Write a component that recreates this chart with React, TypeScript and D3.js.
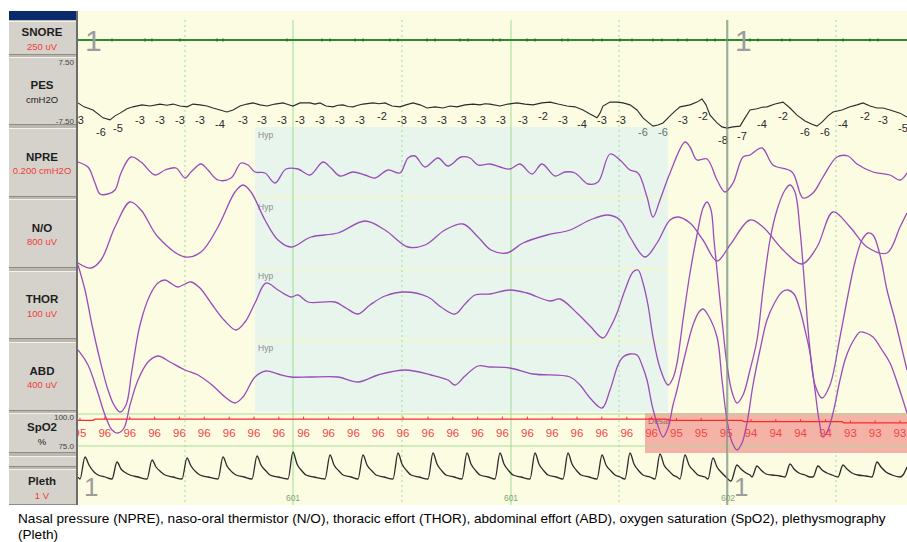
import React from 'react';
import * as d3 from 'd3';

type P = [number, number];

// ---------------- DATA (time in seconds, values in channel units) ----------------
const channelNames = ['SNORE', 'PES', 'NPRE', 'N/O', 'THOR', 'ABD', 'SpO2', '', 'Pleth'];
const channelUnits = ['250 uV', 'cmH2O', '0.200 cmH2O', '800 uV', '100 uV', '400 uV', '%', '', '1 V'];

const snoreBlips: number[] = [1.7, 3.35, 3.7, 5.1, 6.95, 7.25, 10.45, 12.2, 12.6, 13.85, 14.25, 15.6, 16.0, 17.45, 17.85, 19.1, 19.5, 20.75, 21.1, 22.45, 22.85, 24.2, 24.5, 25.75, 26.2, 27.1, 27.7, 28.75, 29.2, 30.0, 30.45, 31.45, 31.85, 33.6, 34.0, 35.2, 35.6, 37.0, 38.25, 39.6, 40.0];

const pesTrace: P[] = [[0, -2.9], [0.3, -3.9], [0.75, -4.7], [1.25, -6.7], [1.6, -7.2], [1.85, -6.2], [2.1, -5.5], [2.45, -4.4], [2.75, -3.9], [3.2, -3.4], [3.6, -3.7], [4.1, -3.2], [4.45, -3.5], [4.75, -3.2], [5.1, -3.7], [5.45, -3.9], [5.75, -3.2], [6.1, -3.4], [6.45, -3.7], [6.75, -4.2], [7.1, -4.7], [7.45, -5.2], [7.75, -4.7], [8.1, -3.7], [8.45, -3.2], [8.75, -2.9], [9.1, -3.4], [9.45, -3.7], [9.85, -3.2], [10.25, -2.9], [10.5, -3.3], [10.75, -3.7], [11.1, -2.9], [11.6, -2.9], [11.85, -3.2], [12.1, -2.9], [12.4, -3.7], [12.75, -3.9], [13.0, -3.5], [13.25, -3.4], [13.5, -3.8], [13.75, -3.9], [14.0, -3.5], [14.25, -3.2], [14.75, -2.9], [15.05, -3.1], [15.35, -2.9], [15.7, -3.7], [16.1, -3.9], [16.4, -3.4], [16.75, -2.9], [17.1, -3.4], [17.45, -4.2], [17.85, -3.9], [18.25, -4.2], [18.6, -3.7], [18.95, -3.9], [19.35, -3.4], [19.75, -3.2], [20.1, -3.4], [20.35, -3.1], [20.6, -3.2], [21.1, -3.7], [21.5, -3.2], [21.95, -2.9], [22.35, -3.2], [22.75, -3.4], [23.2, -2.9], [23.6, -2.7], [24.0, -3.2], [24.45, -3.7], [24.85, -3.9], [25.25, -4.7], [25.6, -5.7], [25.95, -6.7], [26.1, -5.5], [26.25, -3.7], [26.6, -2.7], [26.95, -2.7], [27.25, -2.9], [27.6, -3.4], [27.95, -4.7], [28.25, -6.7], [28.5, -7.8], [28.75, -8.8], [29.0, -8.5], [29.25, -8.0], [29.6, -6.2], [29.85, -5.0], [30.1, -3.9], [30.6, -3.4], [30.95, -2.7], [31.2, -1.9], [31.4, -3.4], [31.6, -6.0], [31.95, -8.0], [32.2, -9.0], [32.45, -9.3], [32.75, -9.0], [33.1, -8.8], [33.35, -6.7], [33.6, -4.7], [33.95, -4.4], [34.2, -4.0], [34.45, -3.9], [34.85, -3.2], [35.25, -2.7], [35.6, -4.2], [35.95, -6.0], [36.35, -7.5], [36.7, -8.3], [36.95, -8.8], [37.2, -7.8], [37.5, -6.2], [37.75, -5.2], [38.2, -4.7], [38.6, -3.9], [38.95, -3.4], [39.25, -2.9], [39.6, -3.7], [39.95, -4.2], [40.25, -4.2], [40.6, -4.7], [41.1, -5.5], [41.45, -6.5]];

const pesLabelTimes: number[] = [0.05, 1.15, 2.0, 3.1, 4.1, 5.1, 6.1, 7.1, 8.25, 9.2, 10.2, 11.1, 12.1, 13.1, 14.1, 15.2, 16.2, 17.2, 18.2, 19.2, 20.15, 21.15, 22.25, 23.25, 24.25, 25.2, 26.2, 27.15, 28.25, 29.25, 30.25, 31.25, 32.25, 33.2, 34.2, 35.25, 36.35, 37.35, 38.25, 39.35, 40.25, 41.25];
const pesLabelValues: number[] = [-3, -6, -5, -3, -3, -3, -3, -4, -3, -3, -3, -3, -3, -3, -3, -2, -3, -3, -3, -3, -3, -3, -3, -2, -3, -4, -3, -3, -6, -6, -3, -2, -8, -7, -4, -2, -6, -6, -4, -2, -3, -5];

const npreTrace: P[] = [[0, 0], [0.5, -0.05], [0.85, -0.21], [1.1, -0.32], [1.5, -0.32], [1.85, -0.28], [2.15, -0.11], [2.65, 0.05], [3.15, 0], [3.85, -0.13], [4.35, -0.08], [4.9, -0.06], [5.35, -0.16], [5.65, -0.1], [6.15, -0.02], [6.5, -0.08], [7.0, -0.18], [7.65, -0.16], [8.15, -0.01], [8.5, -0.03], [8.85, -0.1], [9.35, -0.11], [9.85, -0.21], [10.4, -0.07], [11.0, -0.07], [11.6, -0.13], [12.25, 0], [12.65, -0.06], [13.1, -0.14], [13.75, -0.1], [14.35, -0.13], [14.85, -0.16], [15.5, -0.08], [16.1, -0.11], [16.5, 0.04], [16.85, 0.06], [17.35, -0.05], [18.0, 0.04], [18.5, -0.04], [19.15, 0.05], [19.6, 0.04], [20.0, -0.03], [20.6, -0.02], [21.1, -0.05], [21.6, -0.07], [22.1, -0.02], [22.7, -0.12], [23.2, -0.02], [23.85, -0.14], [24.35, -0.1], [24.85, -0.11], [25.5, -0.22], [26.0, -0.2], [26.6, 0.08], [27.1, 0.02], [27.6, -0.08], [28.0, -0.11], [28.45, -0.35], [28.75, -0.55], [29.1, -0.38], [29.6, -0.11], [30.35, 0.2], [30.6, 0.15], [30.95, 0.02], [31.45, 0.03], [31.95, -0.18], [32.35, -0.3], [32.75, -0.21], [33.25, 0.05], [33.6, 0.07], [34.2, 0.14], [34.75, -0.03], [35.7, -0.1], [36.25, -0.36], [36.75, -0.31], [37.25, -0.15], [37.95, 0.05], [38.5, 0.06], [38.95, -0.02], [39.75, -0.1], [40.6, -0.13], [41.1, -0.18], [41.45, -0.11]];

const noTrace: P[] = [[0, -310], [0.65, -360], [1.15, -280], [1.85, 50], [2.6, 300], [3.15, 220], [4.0, -50], [5.35, -250], [6.15, -200], [7.0, 50], [7.85, 400], [8.25, 470], [8.65, 400], [9.35, 120], [10.0, -80], [10.65, -150], [11.65, -50], [13.0, -10], [14.35, 110], [15.35, 20], [16.5, -150], [17.35, -130], [18.35, 20], [19.25, 80], [20.0, -50], [20.65, -180], [21.45, -210], [22.25, -110], [23.45, -30], [24.6, 20], [25.6, 120], [26.5, 170], [27.1, 120], [27.6, -50], [28.35, -250], [28.95, -110], [29.6, 120], [30.0, 150], [30.6, 90], [31.25, -80], [31.95, -290], [32.6, -130], [33.6, 120], [34.25, 50], [35.25, -180], [36.2, -320], [36.95, -150], [37.75, 200], [38.6, 50], [39.45, -150], [40.45, -210], [41.1, 50], [41.45, 190]];

const thorTrace: P[] = [[0, 39], [0.35, 14], [0.7, -21], [1.1, -56], [1.5, -86], [1.8, -101], [2.1, -108], [2.4, -101], [2.7, -66], [3.1, -21], [3.6, 9], [4.0, 21], [4.35, 24], [4.7, 20], [5.0, 17], [5.35, 20], [5.65, 22], [6.1, 16], [6.65, 1], [7.3, -16], [7.9, -26], [8.35, -18], [8.85, 1], [9.4, 21], [10.0, 14], [10.65, 7], [11.0, 9], [11.5, 2], [12.85, 2], [13.4, -4], [14.0, -10], [14.6, -1], [15.35, 8], [16.35, 12], [17.5, 7], [18.15, -3], [18.85, -10], [19.35, 0], [19.85, 9], [20.6, 10], [21.6, 14], [22.45, 11], [23.6, 3], [24.1, 5], [24.95, -9], [25.6, -22], [26.25, -34], [26.6, -24], [26.95, -9], [27.35, 14], [27.75, 32], [28.0, 34], [28.25, 21], [28.5, -1], [28.75, -33], [29.1, -64], [29.5, -81], [29.75, -74], [29.95, -59], [30.25, -16], [30.6, 31], [30.95, 69], [31.25, 96], [31.45, 102], [31.65, 94], [31.8, 64], [31.95, 34], [32.2, -16], [32.45, -61], [32.7, -88], [32.95, -99], [33.25, -91], [33.6, -66], [33.95, -36], [34.25, 14], [34.6, 64], [34.95, 94], [35.35, 114], [35.6, 119], [35.85, 112], [36.1, 74], [36.35, 14], [36.6, -46], [36.85, -81], [37.2, -94], [37.6, -81], [38.1, -33], [38.5, 9], [38.85, 42], [39.2, 64], [39.5, 71], [39.75, 69], [40.1, 49], [40.45, 14], [40.85, -16], [41.15, -41], [41.45, -66]];

const abdTrace: P[] = [[0, 25], [0.5, 10], [0.95, -15], [1.35, -40], [1.7, -55], [2.0, -58], [2.3, -53], [2.6, -30], [3.0, -5], [3.5, 13], [4.0, 19], [4.6, 13], [5.35, 5], [6.0, 0], [6.7, -10], [7.35, -22], [7.85, -28], [8.25, -22], [8.85, -2], [9.4, 4], [10.0, 1], [10.65, -2], [11.6, -2], [13.0, -2], [14.0, -7], [15.0, 0], [16.35, 5], [17.65, 0], [18.5, -5], [18.85, -10], [19.35, -1], [20.0, 9], [20.6, 8], [21.6, 7], [22.75, 1], [24.6, -2], [25.1, -10], [25.6, -23], [26.2, -33], [26.6, -15], [27.0, 10], [27.25, 18], [27.6, 21], [27.95, 20], [28.2, 10], [28.45, -5], [28.7, -30], [28.95, -48], [29.25, -62], [29.5, -53], [29.75, -30], [29.95, -15], [30.35, 20], [30.75, 50], [31.05, 63], [31.25, 66], [31.5, 60], [31.95, 38], [32.2, -5], [32.45, -45], [32.7, -67], [32.95, -75], [33.2, -68], [33.45, -48], [33.75, -10], [34.1, 25], [34.45, 55], [34.85, 73], [35.2, 83], [35.5, 85], [35.8, 81], [36.1, 65], [36.35, 45], [36.6, 22], [36.85, -15], [37.05, -45], [37.25, -62], [37.5, -55], [37.75, -38], [38.1, -5], [38.35, 15], [38.6, 28], [38.85, 37], [39.1, 43], [39.4, 42], [39.75, 38], [40.2, 25], [40.6, 12], [41.0, -10], [41.45, -38]];

const spo2Trace: P[] = [[0, 95], [0.75, 95], [0.85, 96], [29.4, 96], [29.6, 95], [33.2, 95], [33.3, 94], [38.2, 94], [38.3, 93], [41.45, 93]];
const spo2LabelTimes: number[] = [0.1, 1.34, 2.59, 3.83, 5.07, 6.31, 7.56, 8.8, 10.04, 11.28, 12.53, 13.77, 15.01, 16.25, 17.5, 18.74, 19.98, 21.22, 22.47, 23.71, 24.95, 26.19, 27.44, 28.68, 29.92, 31.16, 32.41, 33.65, 34.89, 36.13, 37.38, 38.62, 39.86, 41.1];
const spo2LabelValues: number[] = [95, 96, 96, 96, 96, 96, 96, 96, 96, 96, 96, 96, 96, 96, 96, 96, 96, 96, 96, 96, 96, 96, 96, 96, 95, 95, 95, 94, 94, 94, 94, 93, 93, 93];

const plethTrace: P[] = [
  [0, 0.2], [0.1, 0.15], [0.35, 0.7], [0.55, 0.5], [0.8, 0.325], [1.0, 0.25], [1.35, 0.2],
  [1.7, 0.15], [1.95, 0.575], [2.15, 0.4], [2.4, 0.3], [2.6, 0.25], [3.0, 0.2],
  [3.45, 0.15], [3.7, 0.625], [3.9, 0.45], [4.15, 0.325], [4.35, 0.25], [4.75, 0.2],
  [5.2, 0.15], [5.45, 0.675], [5.65, 0.475], [5.9, 0.325], [6.1, 0.25], [6.5, 0.2],
  [7.0, 0.15], [7.25, 0.7], [7.45, 0.475], [7.7, 0.325], [7.9, 0.25], [8.3, 0.2],
  [8.7, 0.15], [8.95, 0.725], [9.15, 0.5], [9.4, 0.35], [9.6, 0.25], [10.0, 0.2],
  [10.5, 0.15], [10.75, 0.825], [10.95, 0.525], [11.2, 0.35], [11.4, 0.25], [11.8, 0.2],
  [12.35, 0.15], [12.6, 0.75], [12.8, 0.5], [13.05, 0.35], [13.25, 0.25], [13.65, 0.2],
  [14.0, 0.15], [14.25, 0.75], [14.45, 0.5], [14.7, 0.35], [14.9, 0.25], [15.3, 0.2],
  [15.75, 0.15], [16.0, 0.8], [16.2, 0.525], [16.45, 0.35], [16.65, 0.25], [17.05, 0.2],
  [17.5, 0.15], [17.75, 0.8], [17.95, 0.525], [18.2, 0.35], [18.4, 0.25], [18.8, 0.2],
  [19.2, 0.15], [19.45, 0.8], [19.65, 0.525], [19.9, 0.35], [20.1, 0.25], [20.5, 0.2],
  [20.85, 0.15], [21.1, 0.8], [21.3, 0.525], [21.55, 0.35], [21.75, 0.25], [22.15, 0.2],
  [22.6, 0.15], [22.85, 0.8], [23.05, 0.525], [23.3, 0.35], [23.5, 0.25], [23.9, 0.2],
  [24.25, 0.15], [24.5, 0.8], [24.7, 0.525], [24.95, 0.35], [25.15, 0.25], [25.55, 0.2],
  [25.95, 0.15], [26.2, 0.75], [26.4, 0.5], [26.65, 0.35], [26.85, 0.25], [27.1, 0.2],
  [27.35, 0.15], [27.6, 0.8], [27.8, 0.525], [28.05, 0.35], [28.25, 0.25], [28.6, 0.2],
  [28.85, 0.15], [29.1, 0.775], [29.3, 0.5], [29.55, 0.35], [29.75, 0.25], [29.95, 0.2],
  [30.1, 0.15], [30.35, 0.75], [30.55, 0.5], [30.8, 0.35], [31.0, 0.25], [31.35, 0.2],
  [31.5, 0.15], [31.75, 0.675], [31.95, 0.45], [32.2, 0.3], [32.4, 0.2], [32.55, 0.125],
  [32.65, 0.1], [32.95, 0.5], [33.15, 0.4], [33.4, 0.3], [33.6, 0.25],
  [33.7, 0.2], [33.95, 0.475], [34.15, 0.375], [34.4, 0.275], [34.7, 0.25], [35.1, 0.225],
  [35.35, 0.2], [35.6, 0.525], [35.8, 0.4], [36.05, 0.3], [36.35, 0.25], [36.6, 0.2],
  [36.75, 0.2], [37.0, 0.475], [37.2, 0.375], [37.45, 0.3], [37.7, 0.25],
  [38.0, 0.2], [38.25, 0.5], [38.45, 0.4], [38.7, 0.3], [39.0, 0.25], [39.4, 0.225],
  [39.7, 0.2], [39.95, 0.575], [40.15, 0.45], [40.4, 0.325], [40.7, 0.25], [41.1, 0.2],
  [41.25, 0.25], [41.45, 0.45]
];

const gridTimes: number[] = [5.35, 10.75, 16.2, 21.65, 27.05, 32.5, 37.9];
const gridSolid: boolean[] = [false, true, false, true, false, true, false];
const epochTimes: number[] = [10.75, 21.65, 32.5];
const epochLabels: string[] = ['601', '601', '602'];
const hypSpan: number[] = [8.85, 29.5];
const desatSpan: number[] = [28.35, 41.45];
const cursorTime = 32.45;
const markerTimes: number[] = [0.25, 32.75];

const captionLines: string[] = [
  'Nasal pressure (NPRE), naso-oral thermistor (N/O), thoracic effort (THOR), abdominal effort (ABD), oxygen saturation (SpO2), plethysmography',
  '(Pleth)'
];

// ---------------- LAYOUT ----------------
const PL = 78, PR = 907, PT = 11, PB = 505;
const rowBoxes: [number, number][] = [[21, 55], [57, 125], [128, 197], [199, 268], [271, 339], [342, 411], [413, 453], [456, 467], [469, 505]];
const RED = '#f03a3a';
const PURPLE = '#9a4cb8';

export default function App() {
  const x = d3.scaleLinear().domain([0, 41.45]).range([PL, PR]);
  const snoreY = d3.scaleLinear().domain([-250, 250]).range([58, 22]);
  const pesY = d3.scaleLinear().domain([-7.5, 7.5]).range([121, 62]);
  const npreY = d3.scaleLinear().domain([-0.35, 0.35]).range([197, 127]);
  const noY = d3.scaleLinear().domain([-355, 355]).range([267.5, 196.5]);
  const thorY = d3.scaleLinear().domain([-36, 36]).range([340, 268]);
  const abdY = d3.scaleLinear().domain([-35, 35]).range([410, 340]);
  const spo2Y = d3.scaleLinear().domain([75, 100]).range([446, 414]);
  const plethY = d3.scaleLinear().domain([0, 1]).range([485, 445]);

  const mk = (ys: d3.ScaleLinear<number, number>, curve: d3.CurveFactory) =>
    d3.line<P>().x(d => x(d[0])).y(d => ys(d[1])).curve(curve);
  const smooth = d3.curveCatmullRom.alpha(0.5);

  const unitColors = [RED, '#222', RED, RED, RED, RED, '#222', RED, RED];

  return (
    <svg width={907} height={542} style={{ position: 'absolute', left: 0, top: 0, background: '#fff' }}
      fontFamily="'Liberation Sans', Arial, sans-serif">
      <defs>
        <clipPath id="plotClip"><rect x={PL} y={PT} width={PR - PL} height={PB - PT} /></clipPath>
      </defs>
      <rect x={PL} y={PT} width={PR - PL} height={PB - PT} fill="#fcfce3" />
      <g clipPath="url(#plotClip)">
        {/* events */}
        <rect x={x(hypSpan[0])} y={127} width={x(hypSpan[1]) - x(hypSpan[0])} height={285} fill="#e7f5ec" />
        {[197.5, 269, 340.5].map((yy, i) => (
          <line key={'rl' + i} x1={x(hypSpan[0])} x2={x(hypSpan[1])} y1={yy} y2={yy} stroke="#f6f6c4" strokeWidth={1.5} />
        ))}
        {[135, 207, 276, 348].map((yy, i) => (
          <text key={'hyp' + i} x={x(hypSpan[0]) + 3} y={yy} fontSize={8.5} fill="#8c8c8c" dominantBaseline="central">Hyp</text>
        ))}
        <rect x={x(desatSpan[0])} y={413} width={x(desatSpan[1]) - x(desatSpan[0])} height={40} fill="#f5b2a6" />
        <text x={x(desatSpan[0]) + 3} y={421} fontSize={8.5} fill="#8a7070" dominantBaseline="central">Desat</text>

        {/* SpO2 guide lines */}
        <line x1={PL} x2={PR} y1={spo2Y(100)} y2={spo2Y(100)} stroke="#a9dc9c" strokeWidth={1} />
        <line x1={PL} x2={PR} y1={spo2Y(75)} y2={spo2Y(75)} stroke="#a9dc9c" strokeWidth={1} />

        {/* grid */}
        {gridTimes.map((t, i) => (
          <line key={'g' + i} x1={x(t)} x2={x(t)} y1={20} y2={PB} stroke="#9fdc97" strokeWidth={1}
            strokeDasharray={gridSolid[i] ? undefined : '2 3'} />
        ))}
        {epochTimes.map((t, i) => (
          <text key={'ep' + i} x={x(t)} y={498} fontSize={8.5} fill="#7aa87a" textAnchor="middle" dominantBaseline="central">{epochLabels[i]}</text>
        ))}

        {/* SNORE */}
        <line x1={PL} x2={PR} y1={snoreY(0)} y2={snoreY(0)} stroke="#2f8a2f" strokeWidth={2} />
        {snoreBlips.map((t, i) => (
          <line key={'sb' + i} x1={x(t)} x2={x(t)} y1={snoreY(0) - 1.5} y2={snoreY(0) + 1.5} stroke="#1d6a1d" strokeWidth={1.2} />
        ))}

        {/* PES */}
        <path d={mk(pesY, d3.curveLinear)(pesTrace) || ''} fill="none" stroke="#2b2b2b" strokeWidth={1.1} />
        {pesLabelTimes.map((t, i) => (
          <text key={'pl' + i} x={x(t)} y={pesY(pesLabelValues[i]) + 17} fontSize={11} textAnchor="middle" dominantBaseline="central"
            fill={t > 28 && t < 29.5 ? '#6d6d6d' : '#2a2a2a'}>{pesLabelValues[i]}</text>
        ))}

        {/* respiratory traces */}
        <path d={mk(npreY, smooth)(npreTrace) || ''} fill="none" stroke={PURPLE} strokeWidth={1.3} />
        <path d={mk(noY, smooth)(noTrace) || ''} fill="none" stroke={PURPLE} strokeWidth={1.3} />
        <path d={mk(thorY, smooth)(thorTrace) || ''} fill="none" stroke={PURPLE} strokeWidth={1.3} />
        <path d={mk(abdY, smooth)(abdTrace) || ''} fill="none" stroke={PURPLE} strokeWidth={1.3} />

        {/* SpO2 */}
        <path d={mk(spo2Y, d3.curveLinear)(spo2Trace) || ''} fill="none" stroke="#ff2a2a" strokeWidth={1.3} />
        {spo2LabelTimes.map((t, i) => (
          <g key={'sp' + i}>
            <line x1={x(t)} x2={x(t)} y1={spo2Y(spo2LabelValues[i]) - 2.5} y2={spo2Y(spo2LabelValues[i])} stroke="#ff2a2a" strokeWidth={1} />
            <text x={x(t)} y={433} fontSize={11.5} fill="#f24646" textAnchor="middle" dominantBaseline="central">{spo2LabelValues[i]}</text>
          </g>
        ))}

        {/* Pleth */}
        <path d={mk(plethY, d3.curveMonotoneX)(plethTrace) || ''} fill="none" stroke="#2a2a2a" strokeWidth={1.3} />

        {/* cursor + markers */}
        <line x1={x(cursorTime)} x2={x(cursorTime)} y1={20} y2={PB} stroke="#8a8a8a" strokeWidth={1.3} />
        {markerTimes.map((t, i) => (
          <g key={'mk' + i}>
            <text x={x(t) + 2} y={51} fontSize={30} fill="#9c9c9c">1</text>
            <text x={x(t) + 1} y={496} fontSize={26} fill="#9c9c9c">1</text>
          </g>
        ))}
      </g>

      {/* left label panel */}
      <rect x={9} y={PT} width={68} height={PB - PT} fill="#bcb8b0" />
      <rect x={9} y={PT} width={68} height={9} fill="#0b2a6b" />
      {rowBoxes.map(([t, b], i) => {
        const cy = (t + b) / 2;
        return (
          <g key={'rb' + i}>
            <rect x={9} y={t} width={67} height={b - t} fill="#d5d2cb" />
            <line x1={9} x2={76} y1={t + 0.5} y2={t + 0.5} stroke="#f3f1ec" />
            <line x1={9} x2={76} y1={b - 0.5} y2={b - 0.5} stroke="#8f8b85" />
            {channelNames[i] && (
              <text x={42} y={cy - 6} fontSize={11.5} fontWeight="bold" fill="#1e1e1e" textAnchor="middle" dominantBaseline="central">{channelNames[i]}</text>
            )}
            {channelUnits[i] && (
              <text x={42} y={cy + 8} fontSize={9.5} fill={unitColors[i]} textAnchor="middle" dominantBaseline="central">{channelUnits[i]}</text>
            )}
          </g>
        );
      })}
      <line x1={77} x2={77} y1={PT} y2={PB} stroke="#6c6c6c" strokeWidth={2} />
      <text x={74} y={62} fontSize={8} fill="#444" textAnchor="end" dominantBaseline="central">7.50</text>
      <text x={74} y={121} fontSize={8} fill="#444" textAnchor="end" dominantBaseline="central">-7.50</text>
      <text x={74} y={417} fontSize={8} fill="#444" textAnchor="end" dominantBaseline="central">100.0</text>
      <text x={74} y={446} fontSize={8} fill="#444" textAnchor="end" dominantBaseline="central">75.0</text>

      {/* caption */}
      {captionLines.map((s, i) => (
        <text key={'cap' + i} x={18} y={523 + i * 15.5} fontSize={13.6} fill="#000">{s}</text>
      ))}
    </svg>
  );
}
